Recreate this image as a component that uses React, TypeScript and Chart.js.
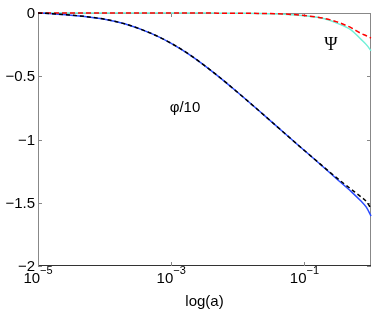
import { useEffect, useRef } from 'react';
import { Chart, registerables } from 'chart.js';

Chart.register(...registerables);

// scale factor a
const aValues = [1e-5, 2e-5, 5e-5, 1e-4, 2e-4, 5e-4, 1e-3, 2e-3, 5e-3, 1e-2, 2e-2, 5e-2, 0.1, 0.2, 0.3, 0.5, 0.7, 0.85, 1];
// phi/10 (blue solid)
const phiBlue = [0, -0.009, -0.027, -0.0495, -0.0855, -0.1615, -0.2395, -0.3385, -0.4965, -0.6285, -0.765, -0.949, -1.087, -1.225, -1.308, -1.410, -1.485, -1.535, -1.605];
// phi/10 approximation (black dashed)
const phiDashed = [0, -0.009, -0.027, -0.0495, -0.0855, -0.1615, -0.2395, -0.3385, -0.4965, -0.6285, -0.765, -0.949, -1.087, -1.222, -1.300, -1.392, -1.452, -1.490, -1.545];
// Psi (red dashed)
const psiRed = [0, 0, 0, 0, 0, 0, 0, 0, -0.001, -0.002, -0.003, -0.008, -0.020, -0.043, -0.068, -0.116, -0.160, -0.180, -0.198];
// Psi (cyan solid)
const psiCyan = [0, 0, 0, 0, 0, 0, 0, 0, -0.001, -0.002, -0.003, -0.009, -0.022, -0.046, -0.078, -0.133, -0.206, -0.250, -0.298];

const xTicks = [1e-5, 1e-3, 1e-1];
const xTickExps = ['\u22125', '\u22123', '\u22121'];
const yTicks = [0, -0.5, -1, -1.5, -2];
const yTickLabels = ['0', '\u22120.5', '\u22121', '\u22121.5', '\u22122'];
const xTitle = 'log(a)';
const phiLabel = '\u03c6/10';
const psiLabel = '\u03a8';

const SANS = '"Liberation Sans", Arial, Helvetica, sans-serif';
const SERIF = '"Liberation Serif", "Times New Roman", serif';

const toPts = (ys: number[]) => aValues.map((a, i) => ({ x: a, y: ys[i] }));

const axesPlugin = {
  id: 'matlabAxes',
  beforeDatasetsDraw(chart: any) {
    const { ctx, chartArea } = chart;
    const xs = chart.scales.x;
    const ysc = chart.scales.y;
    const { left, right, top, bottom } = chartArea;
    ctx.save();
    ctx.lineWidth = 1;
    ctx.strokeStyle = '#888888';
    ctx.beginPath();
    ctx.moveTo(left + 0.5, bottom);
    ctx.lineTo(left + 0.5, top + 0.5);
    ctx.lineTo(right - 0.5, top + 0.5);
    ctx.lineTo(right - 0.5, bottom);
    ctx.stroke();
    ctx.strokeStyle = '#333333';
    ctx.beginPath();
    ctx.moveTo(left, bottom - 0.5);
    ctx.lineTo(right, bottom - 0.5);
    ctx.stroke();

    ctx.strokeStyle = '#888888';
    const tl = 4;
    ctx.beginPath();
    xTicks.forEach((t) => {
      const px = Math.round(xs.getPixelForValue(t)) + 0.5;
      ctx.moveTo(px, bottom);
      ctx.lineTo(px, bottom - tl);
      ctx.moveTo(px, top);
      ctx.lineTo(px, top + tl);
    });
    yTicks.forEach((t) => {
      const py = Math.round(ysc.getPixelForValue(t)) + 0.5;
      ctx.moveTo(left, py);
      ctx.lineTo(left + tl, py);
      ctx.moveTo(right, py);
      ctx.lineTo(right - tl, py);
    });
    ctx.stroke();
    ctx.restore();
  },
  afterDraw(chart: any) {
    const { ctx, chartArea } = chart;
    const xs = chart.scales.x;
    const ysc = chart.scales.y;
    const { left, right, bottom } = chartArea;
    ctx.save();
    ctx.fillStyle = '#000';
    ctx.font = `15px ${SANS}`;
    ctx.textAlign = 'right';
    ctx.textBaseline = 'middle';
    yTicks.forEach((t, i) => {
      ctx.fillText(yTickLabels[i], left - 3, ysc.getPixelForValue(t) + 1);
    });

    ctx.textAlign = 'left';
    ctx.textBaseline = 'alphabetic';
    xTicks.forEach((t, i) => {
      const px = xs.getPixelForValue(t);
      ctx.font = `15px ${SANS}`;
      const w1 = ctx.measureText('10').width;
      ctx.font = `11px ${SANS}`;
      const w2 = ctx.measureText(xTickExps[i]).width;
      const start = px - (w1 + w2) / 2;
      ctx.font = `15px ${SANS}`;
      ctx.fillText('10', start, bottom + 17);
      ctx.font = `11px ${SANS}`;
      ctx.fillText(xTickExps[i], start + w1, bottom + 8);
    });

    ctx.font = `15px ${SANS}`;
    ctx.textAlign = 'center';
    ctx.fillText(xTitle, (left + right) / 2, bottom + 40);

    ctx.textBaseline = 'middle';
    ctx.fillText(phiLabel, 185, 108);
    ctx.font = `18px ${SERIF}`;
    ctx.fillText(psiLabel, 331, 45);
    ctx.restore();
  },
};

export default function App() {
  const ref = useRef<HTMLCanvasElement | null>(null);
  useEffect(() => {
    if (!ref.current) return;
    const common = { pointRadius: 0, borderWidth: 1.5, cubicInterpolationMode: 'monotone' as const, clip: false as const };
    const chart = new Chart(ref.current, {
      type: 'line',
      data: {
        datasets: [
          { label: 'phi/10 approx', data: toPts(phiDashed), borderColor: '#000000', borderDash: [4, 3], ...common },
          { label: 'Psi', data: toPts(psiRed), borderColor: '#ff0000', borderDash: [5, 3], ...common },
          { label: 'phi/10', data: toPts(phiBlue), borderColor: '#2b4cff', ...common },
          { label: 'Psi cyan', data: toPts(psiCyan), borderColor: '#70f0d8', ...common },
        ],
      },
      options: {
        responsive: false,
        animation: false,
        layout: { padding: { left: 38, right: 3, top: 13, bottom: 46 } },
        plugins: { legend: { display: false }, tooltip: { enabled: false } },
        scales: {
          x: { type: 'logarithmic', min: 1e-5, max: 1, display: false },
          y: { type: 'linear', min: -2, max: 0, display: false },
        },
      },
      plugins: [axesPlugin],
    });
    return () => chart.destroy();
  }, []);
  return (
    <div style={{ position: 'absolute', left: 0, top: 0, width: 374, height: 312, background: '#fff' }}>
      <canvas ref={ref} width={374} height={312} style={{ display: 'block' }} />
    </div>
  );
}
